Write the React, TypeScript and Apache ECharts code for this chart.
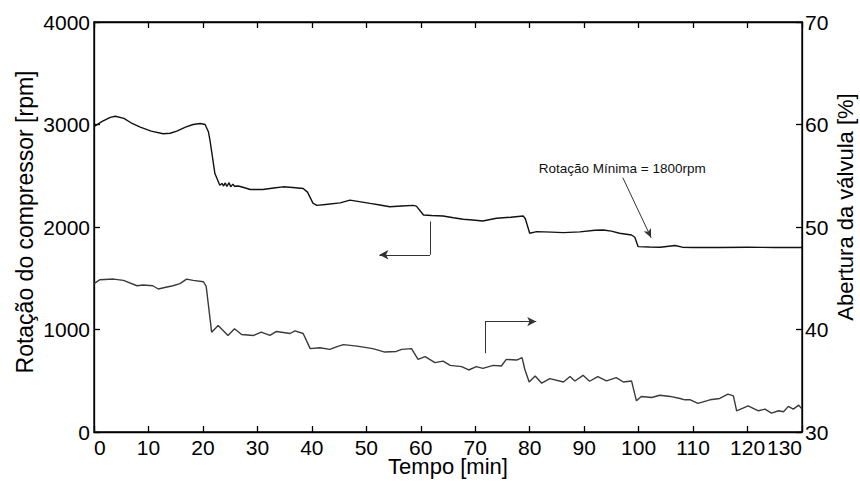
import React, { useEffect, useRef } from "react";
import * as echarts from "echarts";

const timeTicks = [0, 10, 20, 30, 40, 50, 60, 70, 80, 90, 100, 110, 120, 130];

// Rotação do compressor [rpm] : [tempo (min), rpm]
const rotacao: [number, number][] = [
  [0, 2980], [1.5, 3030], [3.0, 3070], [3.9, 3081], [5.5, 3060], [7, 3010], [8.5, 2974],
  [10.5, 2935], [12.7, 2910], [14, 2915], [15.2, 2935], [16.8, 2975], [18.2, 3000],
  [19.5, 3010], [20.4, 3000], [21.0, 2930], [21.3, 2845], [22.2, 2521], [23.1, 2408],
  [23.5, 2425], [23.8, 2400], [24.1, 2430], [24.4, 2395], [24.8, 2432], [25.1, 2392],
  [25.5, 2418], [25.8, 2398], [26.5, 2400], [27.5, 2385], [28.7, 2366], [31.0, 2366],
  [33.0, 2380], [34.7, 2392], [36.5, 2385], [38.4, 2376], [39.2, 2340], [40.2, 2233],
  [40.9, 2211], [42.5, 2220], [45.2, 2235], [47.0, 2262], [49, 2245], [50.7, 2230],
  [52.5, 2215], [54.3, 2197], [56.5, 2205], [58.6, 2211], [59.2, 2204], [60.5, 2117],
  [62, 2112], [64.1, 2107], [66, 2090], [67.8, 2075], [69.5, 2068], [71.4, 2058],
  [73.9, 2085], [76.5, 2095], [78.8, 2107], [79.2, 2080], [80.0, 1939], [81.3, 1955],
  [84, 1950], [86.2, 1945], [89.2, 1952], [92.0, 1968], [93.5, 1971], [95, 1960],
  [96.5, 1939], [98.7, 1922], [99.3, 1900], [99.9, 1809], [102, 1805], [104, 1802],
  [106.7, 1820], [108, 1803], [110, 1800], [115, 1800], [120, 1802], [125, 1800], [130, 1800],
];

// Abertura da válvula [%] : [tempo (min), %]
const abertura: [number, number][] = [
  [0, 44.47], [1.1, 44.86], [3.6, 44.92], [5.4, 44.79], [7.9, 44.27], [9.0, 44.34],
  [10.8, 44.27], [11.8, 43.95], [13, 44.1], [14.5, 44.27], [15.8, 44.47], [17.0, 44.92],
  [18.2, 44.79], [20.1, 44.66], [20.6, 44.2], [21.6, 39.74], [22.8, 40.39], [24.6, 39.42],
  [25.8, 40.07], [27.1, 39.51], [29.3, 39.42], [30.7, 39.74], [32.3, 39.42], [33.5, 39.81],
  [36.0, 39.61], [36.9, 39.87], [38.4, 39.61], [39.7, 38.13], [41.5, 38.22], [43.3, 38.06],
  [44.9, 38.38], [45.8, 38.52], [48.3, 38.38], [51.2, 38.13], [53.4, 37.8], [55.5, 37.86],
  [56.5, 38.06], [58.3, 38.13], [59.5, 37.09], [60.8, 37.35], [62.6, 36.77], [64.1, 36.92],
  [65.4, 36.5], [67.5, 36.38], [68.8, 36.05], [70.2, 36.38], [71.4, 36.21], [73.3, 36.5],
  [74.8, 36.44], [75.7, 37.09], [77.6, 37.02], [78.6, 37.25], [79.1, 36.12], [79.9, 34.88],
  [81.0, 35.47], [82.2, 34.76], [83.7, 35.21], [86.2, 34.88], [87.4, 35.41], [88.3, 34.98],
  [89.8, 35.53], [91.0, 34.95], [92.5, 35.41], [94.1, 34.98], [95.9, 35.31], [97.2, 34.88],
  [98.7, 34.98], [99.6, 33.04], [100.5, 33.47], [102.4, 33.37], [103.9, 33.59], [105.8, 33.47],
  [107.6, 33.27], [108.5, 33.14], [109.5, 33.14], [110.9, 32.79], [113.1, 33.14], [114.9, 33.27],
  [116.4, 33.69], [117.4, 33.52], [118.0, 32.07], [120.1, 32.55], [122.0, 32.07], [123.2, 32.23],
  [124.4, 31.84], [125.7, 32.07], [126.6, 31.97], [127.5, 32.5], [128.4, 32.23], [129.4, 32.62],
  [130, 32.23],
];

// Annotations (data coordinates)
const annotationText = "Rotação Mínima = 1800rpm";
const annotationTextPos: [number, number] = [97.0, 2570];
const annotationArrow: [number, number][] = [[97.1, 2481], [102.3, 1895]];
const leftArrow: [number, number][] = [[61.7, 2054], [61.7, 1729], [52.4, 1729]];
const rightArrow: [number, number][] = [[71.8, 37.69], [71.8, 40.77], [81.2, 40.77]];

const FONT = "'Liberation Sans', Arial, Helvetica, sans-serif";

export default function App() {
  const ref = useRef<HTMLDivElement>(null);
  useEffect(() => {
    if (!ref.current) return;
    const chart = echarts.init(ref.current, null, { renderer: "svg" });
    const mkLine = () => ({ show: true, onZero: false, lineStyle: { color: "#000", width: 1.3 } });
    const mkTick = () => ({ show: true, inside: true, length: 6, lineStyle: { color: "#000", width: 1.3 } });
    const label = { color: "#000", fontSize: 21, fontFamily: FONT };
    const mlStyle = { color: "#333", width: 1, type: "solid" as const };
    chart.setOption({
      animation: false,
      textStyle: { fontFamily: FONT },
      grid: {
        left: 94,
        right: 58,
        top: 22,
        bottom: 51,
        outerBoundsMode: "none",
        show: true,
        borderColor: "#000",
        borderWidth: 1.3,
      },
      xAxis: [
        {
          type: "value",
          min: 0,
          max: 130,
          interval: 10,
          position: "bottom",
          axisLine: mkLine(),
          axisTick: mkTick(),
          splitLine: { show: false },
          name: "Tempo [min]",
          nameLocation: "middle",
          nameMoveOverlap: false,
          nameGap: 23,
          nameTextStyle: { color: "#000", fontSize: 22, fontFamily: FONT },
          axisLabel: {
            ...label,
            margin: 5,
            alignMinLabel: "left",
            alignMaxLabel: "right",
            formatter: (v: number) => (timeTicks.includes(v) ? String(v) : ""),
          },
        },
        {
          type: "value",
          min: 0,
          max: 130,
          interval: 10,
          position: "top",
          axisLine: mkLine(),
          axisTick: mkTick(),
          splitLine: { show: false },
          axisLabel: { show: false },
        },
      ],
      yAxis: [
        {
          type: "value",
          min: 0,
          max: 4000,
          interval: 1000,
          position: "left",
          axisLine: mkLine(),
          axisTick: mkTick(),
          splitLine: { show: false },
          name: "Rotação do compressor [rpm]",
          nameLocation: "middle",
          nameMoveOverlap: false,
          nameRotate: 90,
          nameGap: 58,
          nameTextStyle: { color: "#000", fontSize: 23, fontFamily: FONT, padding: [0, 0, 0, 10] },
          axisLabel: { ...label, margin: 4, formatter: (v: number) => String(v) },
        },
        {
          type: "value",
          min: 30,
          max: 70,
          interval: 10,
          position: "right",
          axisLine: mkLine(),
          axisTick: mkTick(),
          splitLine: { show: false },
          name: "Abertura da válvula [%]",
          nameLocation: "middle",
          nameMoveOverlap: false,
          nameRotate: 90,
          nameGap: 32,
          nameTextStyle: { color: "#000", fontSize: 22, fontFamily: FONT, padding: [0, 0, 0, 40] },
          axisLabel: { ...label, margin: 3, formatter: (v: number) => String(v) },
        },
      ],
      series: [
        {
          name: "Rotação do compressor",
          type: "line",
          xAxisIndex: 0,
          yAxisIndex: 0,
          data: rotacao,
          showSymbol: false,
          symbol: "none",
          lineStyle: { color: "#111", width: 1.4 },
          markLine: {
            silent: true,
            symbol: ["none", "none"],
            label: { show: false },
            lineStyle: mlStyle,
            data: [
              [{ coord: leftArrow[0] }, { coord: leftArrow[1] }],
              [{ coord: leftArrow[1] }, { coord: leftArrow[2], symbol: "arrow", symbolSize: [7, 9] }],
              [
                { coord: annotationArrow[0] },
                { coord: annotationArrow[1], symbol: "arrow", symbolSize: [6, 9] },
              ],
            ],
          },
          markPoint: {
            silent: true,
            symbol: "rect",
            symbolSize: 1,
            itemStyle: { color: "transparent" },
            label: {
              show: true,
              position: "inside",
              color: "#111",
              fontSize: 13.5,
              fontFamily: FONT,
              formatter: annotationText,
            },
            data: [{ coord: annotationTextPos }],
          },
        },
        {
          name: "Abertura da válvula",
          type: "line",
          xAxisIndex: 0,
          yAxisIndex: 1,
          data: abertura,
          showSymbol: false,
          symbol: "none",
          lineStyle: { color: "#3a3a3a", width: 1.4 },
          markLine: {
            silent: true,
            symbol: ["none", "none"],
            label: { show: false },
            lineStyle: mlStyle,
            data: [
              [{ coord: rightArrow[0] }, { coord: rightArrow[1] }],
              [{ coord: rightArrow[1] }, { coord: rightArrow[2], symbol: "arrow", symbolSize: [7, 9] }],
            ],
          },
        },
      ],
    });
    return () => chart.dispose();
  }, []);
  return (
    <div
      ref={ref}
      style={{ position: "fixed", left: 0, top: 0, width: 860, height: 483, background: "#fff" }}
    />
  );
}
